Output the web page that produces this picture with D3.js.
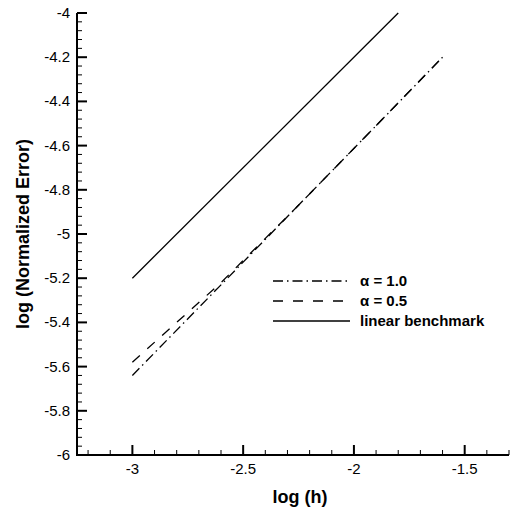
<!DOCTYPE html>
<html lang="en">
  <head>
    <meta charset="UTF-8" />
    <title>Normalized Error vs h</title>
    <script src="https://d3js.org/d3.v7.min.js"></script>
    <style>
      body {
        margin: 0;
        padding: 0;
        background: #fff;
      }
      svg {
        display: block;
        font-family: "Liberation Sans", Arial, sans-serif;
      }
      .tick-label {
        font-size: 15px;
        fill: #000;
      }
      .axis-title {
        font-size: 18px;
        font-weight: bold;
        fill: #000;
      }
      .legend-text {
        font-size: 15px;
        font-weight: bold;
        fill: #000;
      }
    </style>
  </head>
  <body>
    <svg width="514" height="507"></svg>
    <script>
      const width = 514,
        height = 507;
      const svg = d3.select("svg");

      // data
      const logH = [-3, -2.6, -2.26, -1.9, -1.6];
      const alpha10 = [-5.64, -5.23, -4.88, -4.51, -4.2];
      const alpha05 = [-5.58, -5.22, -4.88, -4.51, -4.2];
      const benchX = [-3, -1.8];
      const benchY = [-5.2, -4.0];

      const xTicks = [-3, -2.5, -2, -1.5];
      const yTicks = [-6, -5.8, -5.6, -5.4, -5.2, -5, -4.8, -4.6, -4.4, -4.2, -4];

      const series = [
        { label: "\u03b1 = 1.0", x: logH, y: alpha10, dash: "10,4,1.5,4", w: 1.3 },
        { label: "\u03b1 = 0.5", x: logH, y: alpha05, dash: "10,10", w: 1.3 },
        { label: "linear benchmark", x: benchX, y: benchY, dash: null, w: 1.3 },
      ];

      const x = d3.scaleLinear().domain([-3.25, -1.3]).range([77, 509]);
      const y = d3.scaleLinear().domain([-6, -4]).range([455, 13]);

      // minor ticks
      const xMinor = d3.range(-32, -12).map((d) => d / 10).filter((d) => !xTicks.some((t) => Math.abs(t - d) < 1e-6));
      const yMinor = d3.range(-150, -99).map((d) => d / 25).filter((d) => !yTicks.some((t) => Math.abs(t - d) < 1e-6));

      const axes = svg.append("g").attr("stroke", "#000");

      axes
        .append("line")
        .attr("x1", x.range()[0])
        .attr("x2", x.range()[1])
        .attr("y1", y(-6))
        .attr("y2", y(-6))
        .attr("stroke-width", 2);
      axes
        .append("line")
        .attr("x1", x.range()[0])
        .attr("x2", x.range()[0])
        .attr("y1", y(-6) + 1)
        .attr("y2", y(-4))
        .attr("stroke-width", 2);

      axes
        .selectAll(".xmaj")
        .data(xTicks)
        .join("line")
        .attr("x1", (d) => x(d))
        .attr("x2", (d) => x(d))
        .attr("y1", y(-6))
        .attr("y2", y(-6) - 10)
        .attr("stroke-width", 2);
      axes
        .selectAll(".xmin")
        .data(xMinor)
        .join("line")
        .attr("x1", (d) => x(d))
        .attr("x2", (d) => x(d))
        .attr("y1", y(-6))
        .attr("y2", y(-6) - 5)
        .attr("stroke-width", 1);
      axes
        .selectAll(".ymaj")
        .data(yTicks)
        .join("line")
        .attr("x1", x.range()[0])
        .attr("x2", x.range()[0] + 10)
        .attr("y1", (d) => y(d))
        .attr("y2", (d) => y(d))
        .attr("stroke-width", 2);
      axes
        .selectAll(".ymin")
        .data(yMinor)
        .join("line")
        .attr("x1", x.range()[0])
        .attr("x2", x.range()[0] + 5)
        .attr("y1", (d) => y(d))
        .attr("y2", (d) => y(d))
        .attr("stroke-width", 1);

      svg
        .selectAll(".xlab")
        .data(xTicks)
        .join("text")
        .attr("class", "tick-label")
        .attr("x", (d) => x(d))
        .attr("y", 474)
        .attr("text-anchor", "middle")
        .text((d) => d);
      svg
        .selectAll(".ylab")
        .data(yTicks)
        .join("text")
        .attr("class", "tick-label")
        .attr("x", 70)
        .attr("y", (d) => y(d) + 5)
        .attr("text-anchor", "end")
        .text((d) => d);

      svg
        .append("text")
        .attr("class", "axis-title")
        .attr("x", 300)
        .attr("y", 503)
        .attr("text-anchor", "middle")
        .text("log (h)");
      svg
        .append("text")
        .attr("class", "axis-title")
        .attr("transform", "translate(29,234) rotate(-90)")
        .attr("text-anchor", "middle")
        .text("log (Normalized Error)");

      const line = d3
        .line()
        .x((d) => x(d[0]))
        .y((d) => y(d[1]));

      svg
        .selectAll(".series")
        .data(series)
        .join("path")
        .attr("d", (s) => line(d3.zip(s.x, s.y)))
        .attr("fill", "none")
        .attr("stroke", "#000")
        .attr("stroke-width", (s) => s.w)
        .attr("stroke-dasharray", (s) => s.dash);

      // legend
      const legend = svg
        .selectAll(".legend")
        .data(series)
        .join("g")
        .attr("transform", (s, i) => `translate(273,${281 + i * 20})`);
      legend
        .append("line")
        .attr("x1", 0)
        .attr("x2", 77)
        .attr("stroke", "#000")
        .attr("stroke-width", (s) => s.w)
        .attr("stroke-dasharray", (s) => s.dash);
      legend
        .append("text")
        .attr("class", "legend-text")
        .attr("x", 87)
        .attr("y", 5)
        .text((s) => s.label);
    </script>
  </body>
</html>
